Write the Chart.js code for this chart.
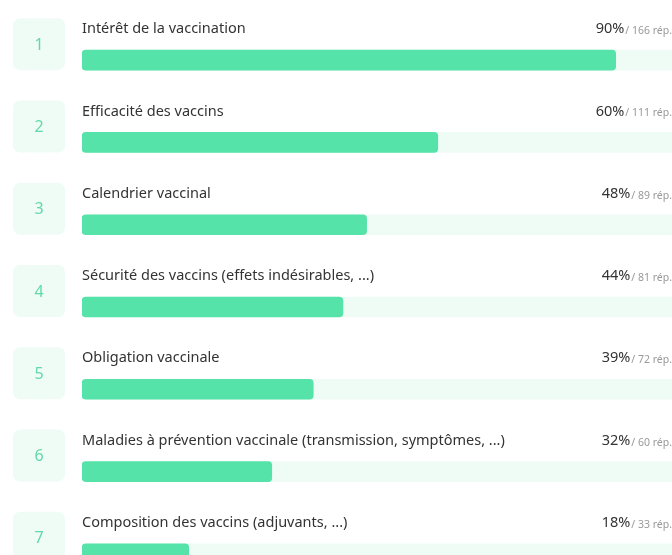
<!DOCTYPE html>
<html>
<head>
<meta charset="utf-8">
<script src="https://cdn.jsdelivr.net/npm/chart.js@4"></script>
<style>
  html, body { margin: 0; padding: 0; background: #fff; overflow: hidden; }
  #wrap { width: 672px; height: 555px; overflow: hidden; }
</style>
</head>
<body>
<div id="wrap"><canvas id="myChart" width="672" height="595"></canvas></div>
<script>
let topics = [
    "Intérêt de la vaccination",
    "Efficacité des vaccins",
    "Calendrier vaccinal",
    "Sécurité des vaccins (effets indésirables, ...)",
    "Obligation vaccinale",
    "Maladies à prévention vaccinale (transmission, symptômes, ...)",
    "Composition des vaccins (adjuvants, ...)"
]
let percents = [90, 60, 48, 44, 39, 32, 18]
let answers = [166, 111, 89, 81, 72, 60, 33]
let track = [100, 100, 100, 100, 100, 100, 100]

const green = "#55e3a9"
const pale = "#effcf6"

// numbers, titles and percentages round each bar
const rowText = {
    id: "rowText",
    afterDatasetsDraw(chart) {
        const ctx = chart.ctx
        const x = chart.scales.x
        const y = chart.scales.y
        ctx.save()
        for (let i = 0; i < topics.length; i++) {
            const cy = y.getPixelForValue(i)

            // rank box
            ctx.fillStyle = pale
            ctx.beginPath()
            ctx.roundRect(13, cy - 42, 52, 52, 7)
            ctx.fill()
            ctx.fillStyle = "#62d9a8"
            ctx.font = "16px 'Noto Sans'"
            ctx.textAlign = "center"
            ctx.textBaseline = "middle"
            ctx.fillText(String(i + 1), 39, cy - 15)

            // title
            ctx.fillStyle = "#333333"
            ctx.font = "14.5px 'Noto Sans'"
            ctx.textAlign = "left"
            ctx.fillText(topics[i], x.left, cy - 31)

            // answers count then percent
            ctx.font = "10.5px 'Noto Sans'"
            ctx.fillStyle = "#999999"
            ctx.textAlign = "right"
            const small = "/ " + answers[i] + " rép."
            ctx.fillText(small, 672, cy - 29)
            const w = ctx.measureText(small).width
            ctx.font = "14.5px 'Noto Sans'"
            ctx.fillStyle = "#333333"
            ctx.fillText(percents[i] + "%", 672 - w - 1, cy - 31)
        }
        ctx.restore()
    }
}

let ctx = document.getElementById("myChart").getContext("2d")
new Chart(ctx, {
    type: "bar",
    data: {
        labels: topics,
        datasets: [{
            data: percents,
            backgroundColor: green,
            borderRadius: 4,
            borderSkipped: false,
            barThickness: 20,
            order: 1
        }, {
            data: track,
            backgroundColor: pale,
            borderRadius: 4,
            borderSkipped: false,
            barThickness: 20,
            order: 2
        }]
    },
    options: {
        indexAxis: "y",
        responsive: false,
        animation: false,
        layout: { padding: { left: 82, right: 0, top: 19, bottom: 0 } },
        datasets: { bar: { grouped: false } },
        plugins: { legend: { display: false }, tooltip: { enabled: false } },
        scales: {
            x: { display: false, min: 0, max: 99.5 },
            y: { display: false }
        }
    },
    plugins: [rowText]
})
</script>
</body>
</html>
